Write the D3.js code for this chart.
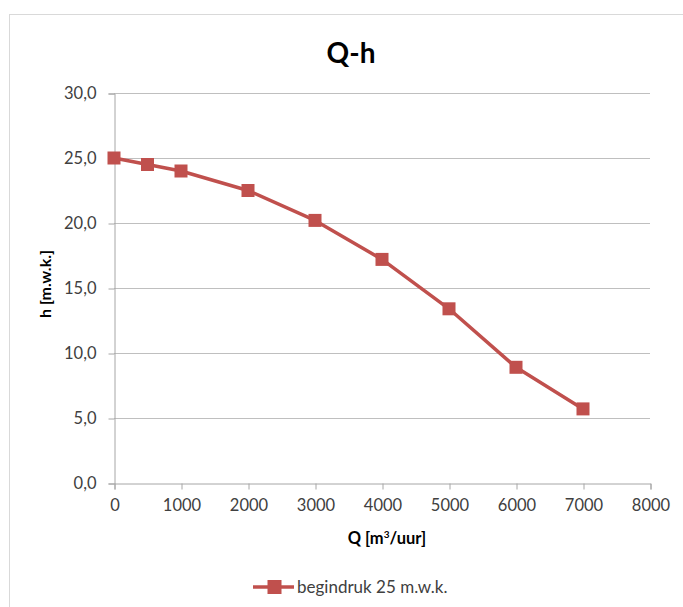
<!DOCTYPE html>
<html><head><meta charset="utf-8">
<script src="https://cdn.jsdelivr.net/npm/d3@7"></script>
<style>body{margin:0;background:#fff;font-family:Lato,sans-serif}</style>
</head><body>
<svg id="c" width="683" height="607"></svg>
<script>
const qValues = [0, 500, 1000, 2000, 3000, 4000, 5000, 6000, 7000];
const hValues = [25.0, 24.5, 24.0, 22.5, 20.2, 17.2, 13.4, 8.9, 5.7];
const xTicks = [0, 1000, 2000, 3000, 4000, 5000, 6000, 7000, 8000];
const yTicks = [0, 5, 10, 15, 20, 25, 30];
const seriesName = "begindruk 25 m.w.k.";
const title = "Q-h";

const svg = d3.select("#c");
const col = "#C0504D";
const font = "Lato, sans-serif";
const x = d3.scaleLinear().domain([0, 8000]).range([114, 650]);
const y = d3.scaleLinear().domain([0, 30]).range([483, 93]);

// outer border
svg.append("rect").attr("x", 9.5).attr("y", 14.5).attr("width", 700).attr("height", 700)
  .attr("fill", "none").attr("stroke", "#d9d9d9").attr("stroke-width", 1);

// gridlines
svg.append("g").selectAll("line").data(yTicks.filter(d => d > 0)).join("line")
  .attr("x1", 114).attr("x2", 650).attr("y1", d => Math.round(y(d)) + 0.5).attr("y2", d => Math.round(y(d)) + 0.5)
  .attr("stroke", "#bfbfbf").attr("stroke-width", 1);

// y axis
const yAxis = svg.append("g").attr("transform", "translate(114.5,0.5)")
  .call(d3.axisLeft(y).tickValues(yTicks).tickSize(6).tickPadding(12)
    .tickFormat(d => d3.format(".1f")(d).replace(".", ",")));
// x axis
const xAxis = svg.append("g").attr("transform", "translate(0.5,483.5)")
  .call(d3.axisBottom(x).tickValues(xTicks).tickSize(6).tickPadding(10).tickFormat(d3.format("d")));
[yAxis, xAxis].forEach(g => {
  g.select(".domain").attr("stroke", "#a6a6a6");
  g.selectAll(".tick line").attr("stroke", "#a6a6a6");
  g.selectAll("text").attr("fill", "#404040").attr("font-size", 16.5).attr("font-family", font);
});

// title
svg.append("text").attr("x", 351).attr("y", 63).attr("text-anchor", "middle")
  .attr("font-size", 28).attr("font-weight", "bold").attr("font-family", font).attr("fill", "#000").text(title);

// axis titles
svg.append("text").attr("transform", "translate(51,284) rotate(-90)").attr("text-anchor", "middle")
  .attr("font-size", 16).attr("font-weight", "bold").attr("font-family", font).attr("fill", "#000").text("h [m.w.k.]");
const xt = svg.append("text").attr("x", 387).attr("y", 544).attr("text-anchor", "middle")
  .attr("font-size", 16.5).attr("font-weight", "bold").attr("font-family", font).attr("fill", "#000");
xt.append("tspan").text("Q [m");
xt.append("tspan").attr("font-size", 10).attr("dy", -6).text("3");
xt.append("tspan").attr("dy", 6).text("/uur]");

// series
const data = qValues.map((q, i) => ({q, h: hValues[i]}));
svg.append("path").datum(data)
  .attr("d", d3.line().x(d => x(d.q)).y(d => y(d.h)))
  .attr("fill", "none").attr("stroke", col).attr("stroke-width", 3.5).attr("stroke-linejoin", "round");
const ms = 13;
svg.append("g").selectAll("rect").data(data).join("rect")
  .attr("x", d => x(d.q) - ms / 2).attr("y", d => y(d.h) - ms / 2)
  .attr("width", ms).attr("height", ms).attr("fill", col);

// legend
const lg = svg.append("g").attr("transform", "translate(0,587)");
lg.append("line").attr("x1", 253).attr("x2", 294).attr("y1", 0).attr("y2", 0)
  .attr("stroke", col).attr("stroke-width", 3.5);
lg.append("rect").attr("x", 274.5 - 7).attr("y", -7).attr("width", 14).attr("height", 14).attr("fill", col);
lg.append("text").attr("x", 297).attr("y", 6).attr("font-size", 17).attr("font-family", font)
  .attr("fill", "#404040").text(seriesName);
</script>
</body></html>
